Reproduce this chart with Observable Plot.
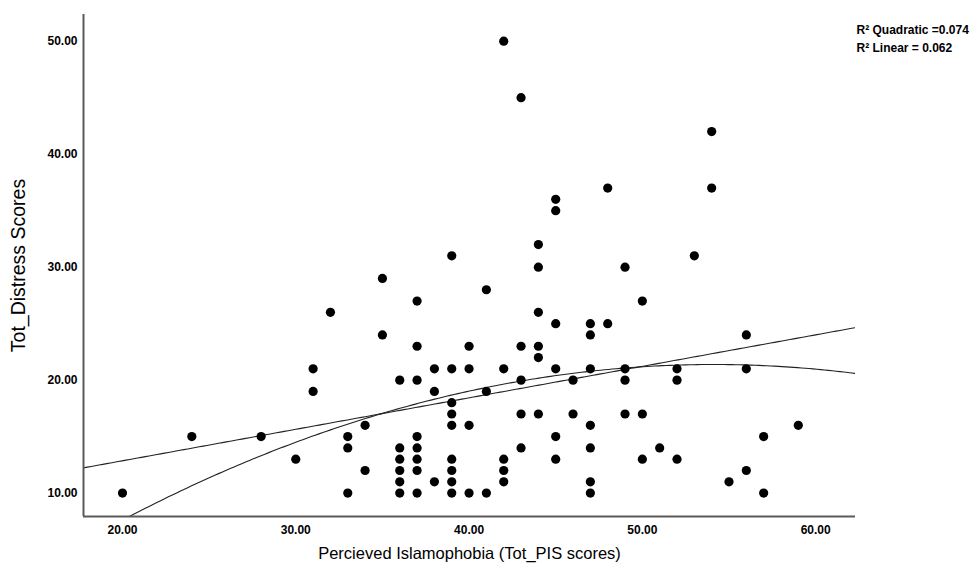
<!DOCTYPE html>
<html>
<head>
<meta charset="utf-8">
<script src="https://cdn.jsdelivr.net/npm/d3@7"></script>
<script src="https://cdn.jsdelivr.net/npm/@observablehq/plot@0.6"></script>
<style>
  html, body { margin: 0; padding: 0; background: #fff; }
</style>
</head>
<body>
<div id="chart"></div>
<script>
// Perceived Islamophobia (Tot_PIS scores), one entry per visible point
const pisScores = [
  20, 24, 28, 30,
  31, 31, 32,
  33, 33, 33, 34, 34, 35, 35,
  36, 36, 36, 36, 36, 36,
  37, 37, 37, 37, 37, 37, 37, 37,
  38, 38, 38,
  39, 39, 39, 39, 39, 39, 39, 39, 39,
  40, 40, 40, 40,
  41, 41, 41,
  42, 42, 42, 42, 42,
  43, 43, 43, 43, 43,
  44, 44, 44, 44, 44, 44,
  45, 45, 45, 45, 45, 45,
  46, 46,
  47, 47, 47, 47, 47, 47, 47,
  48, 48,
  49, 49, 49, 49,
  50, 50, 50,
  51,
  52, 52, 52,
  53,
  54, 54,
  55,
  56, 56, 56,
  57, 57,
  59
];
// Tot_Distress Scores, matching pisScores
const distressScores = [
  10, 15, 15, 13,
  21, 19, 26,
  15, 14, 10, 16, 12, 29, 24,
  20, 14, 13, 12, 11, 10,
  27, 23, 20, 15, 14, 13, 12, 10,
  21, 19, 11,
  31, 21, 18, 17, 16, 13, 12, 11, 10,
  23, 21, 16, 10,
  28, 19, 10,
  50, 21, 13, 12, 11,
  45, 23, 20, 17, 14,
  32, 30, 26, 23, 22, 17,
  36, 35, 25, 21, 15, 13,
  20, 17,
  25, 24, 21, 16, 14, 11, 10,
  37, 25,
  30, 21, 20, 17,
  27, 17, 13,
  14,
  21, 20, 13,
  31,
  42, 37,
  11,
  24, 21, 12,
  15, 10,
  16
];
const xTicks = [20, 30, 40, 50, 60];
const yTicks = [10, 20, 30, 40, 50];
const xDomain = [17.75, 62.3];
const yDomain = [7.93, 52.36];
// Fit coefficients: [intercept, b1, b2]
const linearFit = [7.29, 0.2786];
const quadraticFit = [-13.27, 1.2807, -0.011833];
const fitLabels = ["R² Quadratic =0.074", "R² Linear = 0.062"];
const xTitle = "Percieved Islamophobia (Tot_PIS scores)";
const yTitle = "Tot_Distress Scores";

const points = pisScores.map((x, i) => ({x, y: distressScores[i]}));
const xs = d3.range(0, 201).map(i => xDomain[0] + (xDomain[1] - xDomain[0]) * i / 200);
const linearLine = xs.map(x => ({x, y: linearFit[0] + linearFit[1] * x}));
const quadLine = xs.map(x => ({x, y: quadraticFit[0] + quadraticFit[1] * x + quadraticFit[2] * x * x}));

const font = "'Liberation Sans', Arial, Helvetica, sans-serif";
const axisColor = "#5a5a5a";

const chart = Plot.plot({
  width: 979,
  height: 573,
  marginLeft: 83,
  marginRight: 124,
  marginTop: 14,
  marginBottom: 57,
  style: {fontFamily: font, background: "#fff", color: "#000"},
  x: {domain: xDomain, ticks: xTicks},
  y: {domain: yDomain, ticks: yTicks},
  marks: [
    Plot.line(linearLine, {x: "x", y: "y", stroke: "#222", strokeWidth: 1.1, clip: true}),
    Plot.line(quadLine, {x: "x", y: "y", stroke: "#222", strokeWidth: 1.1, clip: true, curve: "linear"}),
    Plot.dot(points, {x: "x", y: "y", r: 4.6, fill: "#000", stroke: "none"}),
    Plot.ruleX([xDomain[0]], {stroke: axisColor, strokeWidth: 2}),
    Plot.ruleY([yDomain[0]], {stroke: axisColor, strokeWidth: 2}),
    Plot.axisX({ticks: xTicks, tickFormat: d3.format(".2f"), tickSize: 0, tickPadding: 9,
      fontWeight: "bold", fontSize: 12, label: null, fill: "#000"}),
    Plot.axisY({ticks: yTicks, tickFormat: d3.format(".2f"), tickSize: 0, tickPadding: 6,
      fontWeight: "bold", fontSize: 12, label: null, fill: "#000"}),
    Plot.text([xTitle], {frameAnchor: "bottom", dy: 42, fontSize: 16.5, fill: "#000", textAnchor: "middle"}),
    Plot.text([yTitle], {frameAnchor: "left", dx: -65, rotate: -90, fontSize: 19.5, fill: "#000", textAnchor: "middle"}),
    ...fitLabels.map((t, i) => Plot.text([t], {frameAnchor: "top-right", textAnchor: "start",
      dx: 1, dy: 11 + i * 17.7, fontSize: 12, fontWeight: "bold", fill: "#000"}))
  ]
});
document.getElementById("chart").appendChild(chart);
</script>
</body>
</html>
